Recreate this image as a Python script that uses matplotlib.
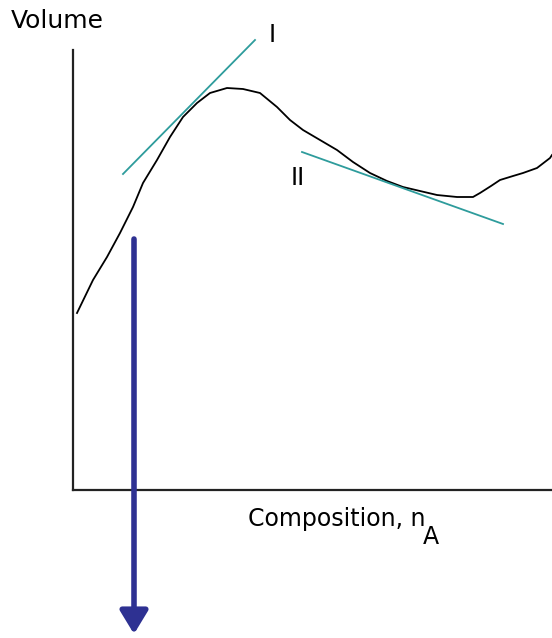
import matplotlib
matplotlib.use("Agg")
import matplotlib.pyplot as plt

# volume vs composition curve (arbitrary units)
comp = [4, 20, 34, 47, 60, 70, 84, 97, 110, 124, 137, 154, 170, 187, 204, 217, 230,
        247, 264, 280, 297, 314, 330, 347, 364, 384, 400, 407, 418, 427, 440, 450,
        464, 477, 479]
vol = [177, 210, 233, 257, 283, 307, 330, 353, 373, 387, 397, 402, 401, 397, 383, 370, 360,
       350, 340, 328, 317, 309, 303, 299, 295, 293, 293, 297, 304, 310, 314, 317,
       322, 332, 335]

# tangents I and II
tan1_x = [50, 182]
tan1_y = [316, 450]
tan2_x = [229, 430]
tan2_y = [338, 266]

# vertical arrow at chosen composition
arrow_x = 61
arrow_y = [251, -144]

W, H = 552, 638
fig = plt.figure(figsize=(W / 100, H / 100), dpi=100)
ax = fig.add_axes([73 / W, (H - 490) / H, (W - 73) / W, 440 / H])
ax.set_xlim(0, 479)
ax.set_ylim(0, 440)
for s in ("top", "right"):
    ax.spines[s].set_visible(False)
for s in ("left", "bottom"):
    ax.spines[s].set_color("#222222")
    ax.spines[s].set_linewidth(1.6)
ax.set_xticks([]); ax.set_yticks([])

teal = "#2e9c9c"
ax.plot(comp, vol, color="black", lw=1.3, clip_on=False)
ax.plot(tan1_x, tan1_y, color=teal, lw=1.3, clip_on=False)
ax.plot(tan2_x, tan2_y, color=teal, lw=1.3, clip_on=False)

ax.annotate("", xy=(arrow_x, arrow_y[1]), xytext=(arrow_x, arrow_y[0]),
            annotation_clip=False,
            arrowprops=dict(arrowstyle="-|>,head_length=1.4,head_width=0.85",
                            color="#2e3192", lw=4, shrinkA=0, shrinkB=0))

ax.text(199, 455, "I", fontsize=17, ha="center", va="center")
ax.text(225, 312, "II", fontsize=17, ha="center", va="center")
ax.text(-62, 469, "Volume", fontsize=18, ha="left", va="center")
t = ax.text(175, -29, "Composition, n", fontsize=17, ha="left", va="center")
ax.annotate("A", xy=(1, 0), xycoords=t, xytext=(-2, 4), textcoords="offset points",
            fontsize=17, ha="left", va="top")

fig.savefig("out.png", dpi=100)
